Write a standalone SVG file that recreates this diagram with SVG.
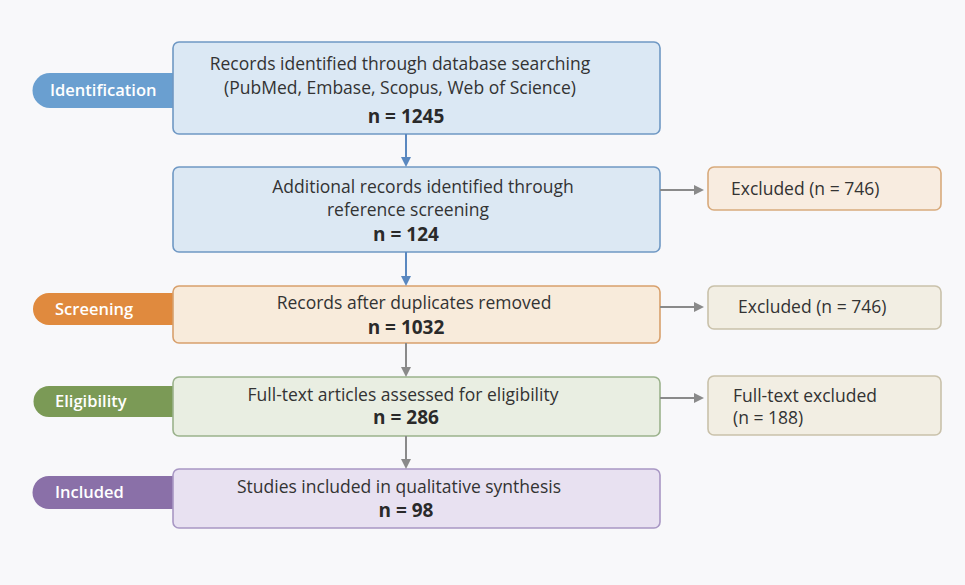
<svg xmlns="http://www.w3.org/2000/svg" width="965" height="585" viewBox="0 0 965 585">
<style>
  text { font-family: "Open Sans", "Noto Sans", "Liberation Sans", sans-serif; fill: #333; }
  .t { font-size: 17.5px; text-anchor: middle; }
  .n { font-size: 19px; font-weight: bold; text-anchor: middle; fill: #2a2a2a; }
  .r { font-size: 17.5px; }
  .pl { font-size: 16.5px; font-weight: 600; fill: #fff; }
  .box { stroke-width: 1.6; }
  .conn { fill: none; stroke-width: 2; }
</style>
<defs>
  <marker id="ab" markerWidth="10" markerHeight="10" refX="8" refY="5" orient="auto" markerUnits="userSpaceOnUse">
    <path d="M0,0 L10,5 L0,10 z" fill="#5a88c0"/>
  </marker>
  <marker id="ag" markerWidth="10" markerHeight="10" refX="8" refY="5" orient="auto" markerUnits="userSpaceOnUse">
    <path d="M0,0 L10,5 L0,10 z" fill="#8a8a8a"/>
  </marker>
</defs>
<rect width="965" height="585" fill="#f8f8fa"/>

<g id="label-identification">
  <path d="M50,73 H180 V108 H50 A17.5,17.5 0 0 1 50,73 z" fill="#6a9fd0"/>
  <text class="pl" x="50" y="96">Identification</text>
</g>
<g id="label-screening">
  <path d="M49,293 H180 V325 H49 A16,16 0 0 1 49,293 z" fill="#e08a3e"/>
  <text class="pl" x="55" y="315">Screening</text>
</g>
<g id="label-eligibility">
  <path d="M49,386 H180 V417 H49 A15.5,15.5 0 0 1 49,386 z" fill="#7b9a56"/>
  <text class="pl" x="55" y="407">Eligibility</text>
</g>
<g id="label-included">
  <path d="M49,476 H180 V509 H49 A16.5,16.5 0 0 1 49,476 z" fill="#8a70a8"/>
  <text class="pl" x="55" y="498">Included</text>
</g>

<g id="n1">
  <rect class="box" x="173" y="42" width="487" height="92" rx="6" fill="#dbe8f4" stroke="#6f98c4"/>
  <text class="t" x="400" y="70">Records identified through database searching</text>
  <text class="t" x="400" y="94">(PubMed, Embase, Scopus, Web of Science)</text>
  <text class="n" x="406" y="123">n = 1245</text>
</g>
<g id="n2">
  <rect class="box" x="173" y="167" width="487" height="85" rx="6" fill="#dce8f3" stroke="#6f98c4"/>
  <text class="t" x="423" y="193">Additional records identified through</text>
  <text class="t" x="408" y="216">reference screening</text>
  <text class="n" x="406" y="241">n = 124</text>
</g>
<g id="n3">
  <rect class="box" x="173" y="286" width="487" height="57" rx="6" fill="#f8ebdb" stroke="#d8a06c"/>
  <text class="t" x="414" y="309">Records after duplicates removed</text>
  <text class="n" x="406" y="334">n = 1032</text>
</g>
<g id="n4">
  <rect class="box" x="173" y="377" width="487" height="59" rx="6" fill="#e9eee2" stroke="#9bb28c"/>
  <text class="t" x="403" y="401">Full-text articles assessed for eligibility</text>
  <text class="n" x="406" y="424">n = 286</text>
</g>
<g id="n5">
  <rect class="box" x="173" y="469" width="487" height="59" rx="6" fill="#e8e1f1" stroke="#a897c4"/>
  <text class="t" x="399" y="493">Studies included in qualitative synthesis</text>
  <text class="n" x="406" y="517">n = 98</text>
</g>

<g id="x1">
  <rect class="box" x="708" y="167" width="233" height="43" rx="6" fill="#f8ece0" stroke="#d8aa7c"/>
  <text class="r" x="731" y="195">Excluded (n = 746)</text>
</g>
<g id="x2">
  <rect class="box" x="708" y="286" width="233" height="43" rx="6" fill="#f2eee3" stroke="#c9c1aa"/>
  <text class="r" x="738" y="313">Excluded (n = 746)</text>
</g>
<g id="x3">
  <rect class="box" x="708" y="376" width="233" height="59" rx="6" fill="#f2eee3" stroke="#c9c1aa"/>
  <text class="r" x="733" y="402">Full-text excluded</text>
  <text class="r" x="733" y="424">(n = 188)</text>
</g>

<g id="connectors">
  <line class="conn" x1="406" y1="134" x2="406" y2="165" stroke="#5a88c0" marker-end="url(#ab)"/>
  <line class="conn" x1="406" y1="252" x2="406" y2="284" stroke="#5a88c0" marker-end="url(#ab)"/>
  <line class="conn" x1="406" y1="343" x2="406" y2="375" stroke="#8a8a8a" marker-end="url(#ag)"/>
  <line class="conn" x1="406" y1="436" x2="406" y2="467" stroke="#8a8a8a" marker-end="url(#ag)"/>
  <line class="conn" x1="660" y1="190" x2="702" y2="190" stroke="#8a8a8a" marker-end="url(#ag)"/>
  <line class="conn" x1="660" y1="307" x2="702" y2="307" stroke="#8a8a8a" marker-end="url(#ag)"/>
  <line class="conn" x1="660" y1="398" x2="702" y2="398" stroke="#8a8a8a" marker-end="url(#ag)"/>
</g>
</svg>
